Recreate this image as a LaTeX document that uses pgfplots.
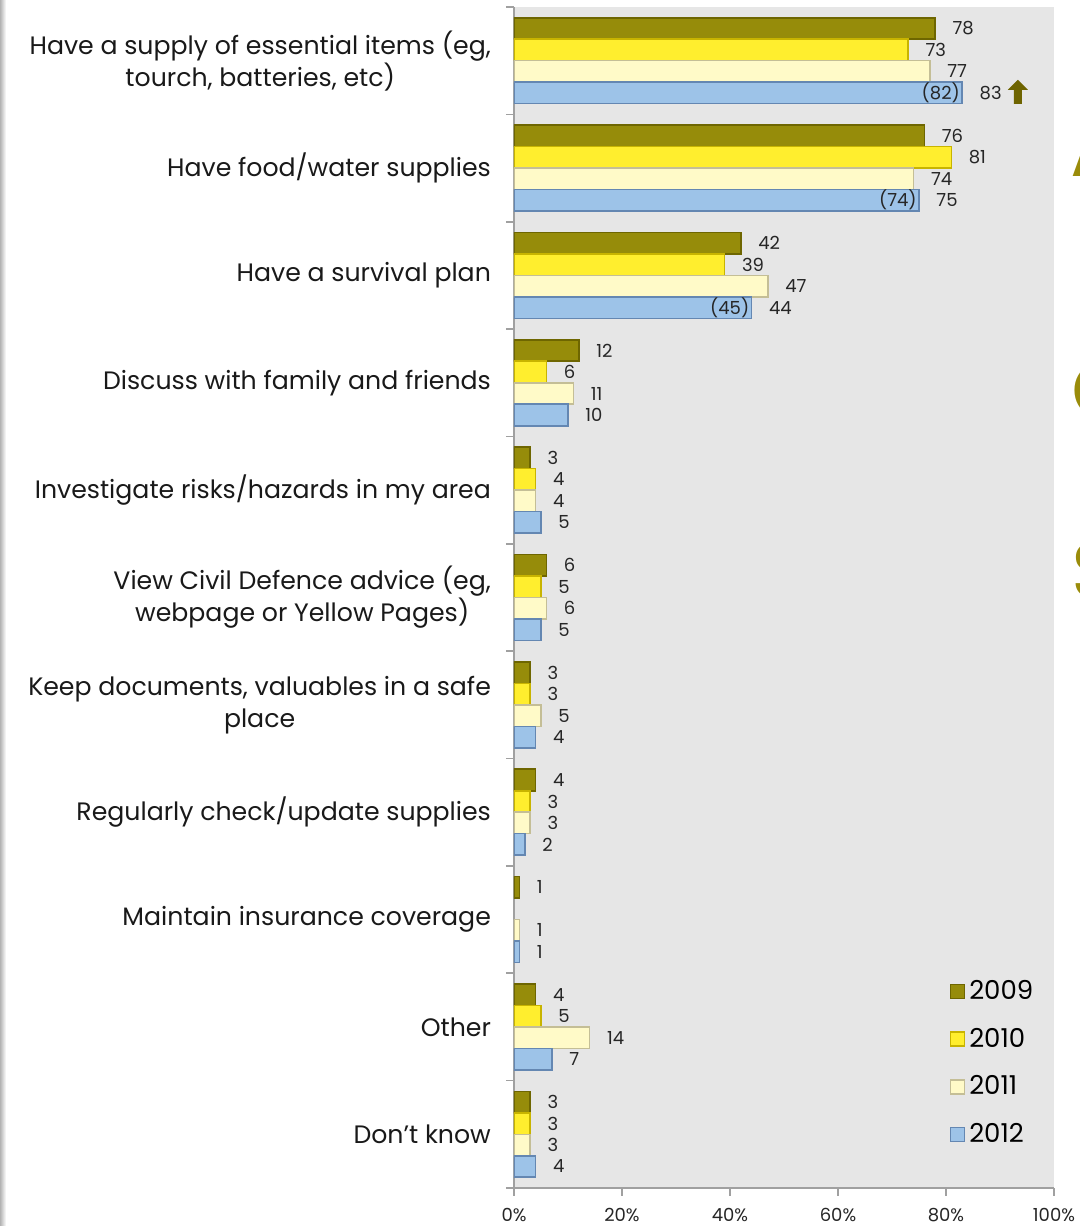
\documentclass[border=0pt]{standalone}
\usepackage{pgfplots}
\pgfplotsset{compat=1.18}
\usepackage{fontspec}
\setmainfont{Poppins}
\definecolor{c09}{RGB}{150,140,10}
\definecolor{c09d}{RGB}{110,102,0}
\definecolor{c10}{RGB}{255,238,46}
\definecolor{c10d}{RGB}{200,180,0}
\definecolor{c11}{RGB}{255,250,200}
\definecolor{c11d}{RGB}{196,190,150}
\definecolor{c12}{RGB}{157,195,232}
\definecolor{c12d}{RGB}{100,135,178}
\definecolor{bgc}{RGB}{230,230,230}
\definecolor{axc}{RGB}{160,160,160}
\definecolor{arrc}{RGB}{110,100,0}
\definecolor{titc}{RGB}{154,140,10}
\begin{document}
\begin{tikzpicture}
\begin{axis}[
  name=ax,
  scale only axis, width=270pt, height=590.5pt,
  xbar, bar width=0.2,
  xmin=0, xmax=100, ymin=-0.5, ymax=10.5,
  axis lines*=left,
  axis line style={draw=axc, line width=0.8pt, -},
  axis background/.style={fill=bgc},
  tick align=outside,
  major tick length=0pt, minor tick length=4pt,
  tick style={draw=axc, line width=0.8pt},
  xtick={0,20,...,100}, minor xtick={0,20,...,100},
  xticklabel={\pgfmathprintnumber{\tick}\%},
  /pgf/number format/assume math mode=true,
  xticklabel style={font=\fontsize{9}{10}\selectfont, yshift=-6.5pt, text=black!85},
  ytick={0,...,10}, minor ytick={-0.5,0.5,...,10.5},
  yticklabels={{Don’t know},{Other},{Maintain insurance coverage},{Regularly check/update supplies},{Keep documents, valuables in a safe\\place},{View Civil Defence advice (eg,\\webpage or Yellow Pages)},{Investigate risks/hazards in my area},{Discuss with family and friends},{Have a survival plan},{Have food/water supplies},{Have a supply of essential items (eg,\\tourch, batteries, etc)}},
  yticklabel style={font=\fontsize{12.6}{16}\selectfont, align=center, xshift=-8pt, text=black!90},
  nodes near coords,
  nodes near coords style={font=\fontsize{9}{10}\selectfont, anchor=west, xshift=5pt, text=black!85},
  legend style={draw=none, fill=none, at={(0.795,0.183)}, anchor=north west, font=\fontsize{13}{14}\selectfont, row sep=8.8pt},
  legend cell align=left,
  legend image code/.code={\draw[#1,/tikz/.cd,line width=0.8pt] (0pt,-3.5pt) rectangle (7pt,3.5pt);},
]
\addplot[fill=c09, draw=c09d, line width=0.8pt, bar shift=0.3] coordinates {(78,10) (76,9) (42,8) (12,7) (3,6) (6,5) (3,4) (4,3) (1,2) (4,1) (3,0)};
\addplot[fill=c10, draw=c10d, line width=0.8pt, bar shift=0.1] coordinates {(73,10) (81,9) (39,8) (6,7) (4,6) (5,5) (3,4) (3,3) (5,1) (3,0)};
\addplot[fill=c11, draw=c11d, line width=0.8pt, bar shift=-0.1] coordinates {(77,10) (74,9) (47,8) (11,7) (4,6) (6,5) (5,4) (3,3) (1,2) (14,1) (3,0)};
\addplot[fill=c12, draw=c12d, line width=0.8pt, bar shift=-0.3] coordinates {(83,10) (75,9) (44,8) (10,7) (5,6) (5,5) (4,4) (2,3) (1,2) (7,1) (4,0)};
\legend{2009,2010,2011,2012}
\node[anchor=east, font=\fontsize{9}{10}\selectfont, inner sep=1pt, text=black!85] at (axis cs:83,9.7) {(82)};
\node[anchor=east, font=\fontsize{9}{10}\selectfont, inner sep=1pt, text=black!85] at (axis cs:75,8.7) {(74)};
\node[anchor=east, font=\fontsize{9}{10}\selectfont, inner sep=1pt, text=black!85] at (axis cs:44,7.7) {(45)};
\coordinate (arr) at (axis cs:93.3,9.71);
\end{axis}
\fill[arrc] ([shift={(-2pt,-6pt)}]arr) -- ([shift={(2pt,-6pt)}]arr) -- ([shift={(2pt,1pt)}]arr) -- ([shift={(5pt,1pt)}]arr) -- ([shift={(0pt,6pt)}]arr) -- ([shift={(-5pt,1pt)}]arr) -- ([shift={(-2pt,1pt)}]arr) -- cycle;
\pgfresetboundingbox
\path[use as bounding box] ([shift={(-257pt,-19pt)}]ax.south west) rectangle ([shift={(13pt,3.5pt)}]ax.north east);
\shade[left color=black!30, right color=white] ([shift={(-257pt,-19pt)}]ax.south west) rectangle ([shift={(-254pt,3.5pt)}]ax.north west);
\node[overlay, anchor=base west, inner sep=0pt, text=titc, font=\fontsize{40}{40}\selectfont] at ([shift={(8pt,-85pt)}]ax.north east) {A};
\node[overlay, anchor=base west, inner sep=0pt, text=titc, font=\fontsize{40}{40}\selectfont] at ([shift={(8.5pt,-206pt)}]ax.north east) {C};
\node[overlay, anchor=base west, inner sep=0pt, text=titc, font=\fontsize{40}{40}\selectfont] at ([shift={(8.5pt,-296pt)}]ax.north east) {S};
\end{tikzpicture}
\end{document}
